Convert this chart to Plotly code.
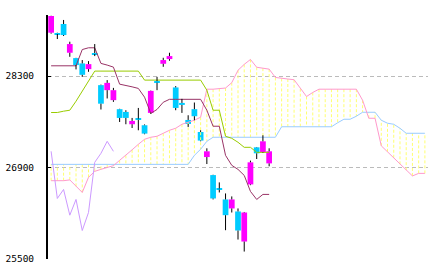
import plotly.graph_objects as go
import numpy as np

# ---- data ----
opens  = [28965, 28960, 29098, 28658, 28576, 28495, 28407, 28653, 28162, 28085,
          27932, 27794, 27752, 27563, 27648, 27548, 27737, 28223, 28489, 28561,
          28127, 27890, 27629, 27794, 27445, 27061, 26785, 26576, 26412, 26274,
          26228, 25767, 26642, 27210, 27133, 26964]
highs  = [29225, 28965, 29160, 28827, 28580, 28546, 28530, 28791, 28170, 28239,
          28120, 27800, 27778, 27660, 27813, 27560, 28080, 28289, 28581, 28658,
          28147, 27952, 27701, 27896, 27471, 27195, 26790, 26673, 26504, 26458,
          26274, 26220, 27006, 27215, 27394, 27195]
lows   = [28950, 28868, 28914, 28596, 28403, 28289, 28366, 28607, 27789, 27958,
          27906, 27598, 27563, 27506, 27471, 27410, 27724, 28085, 28443, 28535,
          27778, 27737, 27522, 27625, 27302, 26954, 26412, 26519, 25941, 26212,
          25798, 25614, 26630, 27031, 27125, 26919]
closes = [29221, 28945, 28929, 28791, 28469, 28320, 28484, 28638, 27878, 28197,
          28085, 27660, 27660, 27614, 27633, 27420, 28074, 28200, 28546, 28607,
          27813, 27859, 27568, 27686, 27313, 27149, 26427, 26565, 26171, 26412,
          25936, 26212, 26980, 27118, 27302, 27149]

tenkan = [28458, 28458, 28458, 28458, 28458, 28707, 28734, 28734, 28495, 28469,
          28438, 28177, 28151, 28136, 28112, 27978, 27730, 27790, 27900, 27945,
          27945, 27945, 27945, 27945, 27945, 27778, 27533, 27533, 27087, 26934,
          26872, 26780, 26535, 26412, 26489, 26489]
kijun  = [27743, 27743, 27763, 27778, 27916, 28070, 28223, 28377, 28377, 28377,
          28377, 28377, 28377, 28377, 28377, 28239, 28239, 28239, 28239, 28239,
          28239, 28239, 28239, 28239, 28239, 28085, 27778, 27778, 27379, 27348,
          27287, 27210, 27210, 27133, 27133, 27133]
senkou_a = [26699, 26699, 26699, 26711, 26612, 26519, 26750, 26842, 26873, 26903,
            26929, 27011, 27087, 27172, 27256, 27333, 27364, 27379, 27425, 27471,
            27502, 27563, 27594, 27625, 27671, 28100, 28100, 28110, 28118, 28200,
            28390, 28480, 28555, 28436, 28423, 28407, 28280, 28264, 28256, 28245,
            28108, 27988, 28050, 28100, 28100, 28100, 28100, 28100, 28100, 28100,
            27931, 27655, 27655, 27233, 27141, 27050, 26950, 26860, 26772, 26811,
            26811]
senkou_b = [26949] * 23 + [27087, 27180, 27302] + [27364] * 11 + \
           [27525] * 9 + [27586, 27640, 27640, 27686, 27747, 27747, 27747,
                          27625, 27579, 27563, 27502, 27425, 27425, 27425, 27425]
chikou = [27149, 26427, 26565, 26171, 26412, 25936, 26212, 26980, 27118, 27302, 27149]

y_ticks = [25500, 26900, 28300]
y_range = [25500, 29236]

# ---- derived positions ----
n = len(closes)
xs = list(range(n))
xf = list(range(len(senkou_a)))
o = np.array(opens, float); c = np.array(closes, float)
h = np.array(highs, float); l = np.array(lows, float)
top = np.maximum(o, c); bot = np.minimum(o, c)
height = np.maximum(top - bot, 16)
base = np.where(top - bot >= 16, bot, (top + bot) / 2 - 8)
colors = ["#ff00ff" if cc > oo else "#00ccff" for oo, cc in zip(opens, closes)]

fig = go.Figure()

# cloud hatch: vertical dashed yellow lines between spans
cx, cy = [], []
for i in xf:
    cx += [i, i, None]
    cy += [senkou_a[i], senkou_b[i], None]
fig.add_trace(go.Scatter(x=cx, y=cy, mode="lines",
                         line=dict(color="#ffff70", width=1, dash="3px,2px"),
                         hoverinfo="skip"))
fig.add_trace(go.Scatter(x=xf, y=senkou_b, mode="lines",
                         line=dict(color="#99ccff", width=1)))
fig.add_trace(go.Scatter(x=xf, y=senkou_a, mode="lines",
                         line=dict(color="#ff99cc", width=1)))
fig.add_trace(go.Scatter(x=list(range(len(chikou))), y=chikou, mode="lines",
                         line=dict(color="#cc99ff", width=1)))
fig.add_trace(go.Scatter(x=xs, y=kijun, mode="lines",
                         line=dict(color="#99cc00", width=1)))
fig.add_trace(go.Scatter(x=xs, y=tenkan, mode="lines",
                         line=dict(color="#993366", width=1)))

# wicks (split so they don't cross bodies)
wx, wy = [], []
for i in xs:
    if h[i] > base[i] + height[i]:
        wx += [i, i, None]; wy += [h[i], base[i] + height[i], None]
    if l[i] < base[i]:
        wx += [i, i, None]; wy += [base[i], l[i], None]
fig.add_trace(go.Scatter(x=wx, y=wy, mode="lines",
                         line=dict(color="black", width=1), hoverinfo="skip"))
# bodies
fig.add_trace(go.Bar(x=xs, y=height, base=base, width=0.92,
                     marker=dict(color=colors, line=dict(width=0))))

fig.update_layout(
    width=432, height=273,
    margin=dict(l=48, r=4, t=15, b=14),
    paper_bgcolor="white", plot_bgcolor="white",
    showlegend=False,
    font=dict(family="DejaVu Sans Mono", size=9.5, color="black"),
)
fig.update_xaxes(range=[-0.5, len(senkou_a) - 0.5], showgrid=False,
                 showticklabels=False, zeroline=False, showline=False, ticks="")
fig.update_yaxes(range=y_range, tickvals=y_ticks, ticktext=[str(v) for v in y_ticks],
                 showgrid=True, gridcolor="#bbbbbb", griddash="4px,3px", gridwidth=1,
                 zeroline=False, showline=True, linecolor="black", linewidth=2,
                 ticks="inside", ticklen=3, tickcolor="black", tickwidth=1,
                 ticklabelstandoff=10)

fig.write_html("out.html")
